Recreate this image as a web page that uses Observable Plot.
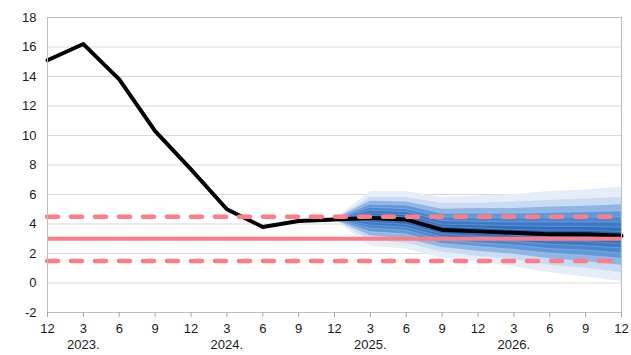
<!DOCTYPE html>
<html>
<head>
<meta charset="utf-8">
<script src="https://cdn.jsdelivr.net/npm/d3@7"></script>
<script src="https://cdn.jsdelivr.net/npm/@observablehq/plot@0.6"></script>
<style>
  html, body { margin: 0; padding: 0; background: #fff; }
  #chart { width: 631px; height: 355px; }
</style>
</head>
<body>
<div id="chart"></div>
<script>
// Quarterly periods
const periods = ["2022-12","2023-03","2023-06","2023-09","2023-12","2024-03","2024-06","2024-09","2024-12",
                 "2025-03","2025-06","2025-09","2025-12","2026-03","2026-06","2026-09","2026-12"];
const monthLabels = ["12","3","6","9","12","3","6","9","12","3","6","9","12","3","6","9","12"];
const yearLabels = {"2023-03": "2023.", "2024-03": "2024.", "2025-03": "2025.", "2026-03": "2026."};

// Inflation (actual + central projection)
const inflation = [15.1, 16.2, 13.8, 10.3, 7.7, 5.0, 3.8, 4.2, 4.3, 4.4, 4.3, 3.6, 3.5, 3.4, 3.3, 3.3, 3.2];

// Fan chart bands (outer to inner), periods 2024-12 .. 2026-12
const fanPeriods = ["2024-12","2025-03","2025-06","2025-09","2025-12","2026-03","2026-06","2026-09","2026-12"];
const band1Hi = [4.3, 6.2, 6.2, 5.8, 5.9, 6.0, 6.2, 6.3, 6.5];
const band1Lo = [4.3, 2.5, 2.3, 1.7, 1.4, 1.1, 0.7, 0.4, 0.1];
const band2Hi = [4.3, 5.8, 5.8, 5.4, 5.4, 5.5, 5.6, 5.7, 5.8];
const band2Lo = [4.3, 2.9, 2.7, 2.1, 1.8, 1.6, 1.2, 1.0, 0.7];
const band3Hi = [4.3, 5.55, 5.5, 5.0, 5.05, 5.05, 5.15, 5.2, 5.3];
const band3Lo = [4.3, 3.2, 3.0, 2.4, 2.15, 1.95, 1.65, 1.45, 1.2];
const band4Hi = [4.3, 5.3, 5.25, 4.7, 4.7, 4.7, 4.75, 4.8, 4.85];
const band4Lo = [4.3, 3.45, 3.3, 2.65, 2.45, 2.25, 2.0, 1.85, 1.65];
const band5Hi = [4.3, 5.1, 5.0, 4.45, 4.4, 4.4, 4.4, 4.45, 4.45];
const band5Lo = [4.3, 3.7, 3.55, 2.9, 2.7, 2.55, 2.3, 2.2, 2.0];
const band6Hi = [4.3, 4.9, 4.8, 4.2, 4.15, 4.1, 4.1, 4.1, 4.1];
const band6Lo = [4.3, 3.9, 3.75, 3.1, 2.95, 2.8, 2.6, 2.5, 2.35];
const band7Hi = [4.3, 4.7, 4.6, 3.95, 3.9, 3.85, 3.8, 3.8, 3.75];
const band7Lo = [4.3, 4.1, 3.95, 3.3, 3.15, 3.0, 2.85, 2.8, 2.65];
const band8Hi = [4.3, 4.55, 4.45, 3.8, 3.7, 3.6, 3.55, 3.55, 3.45];
const band8Lo = [4.3, 4.25, 4.15, 3.45, 3.35, 3.2, 3.1, 3.05, 2.95];
const bandColors = ["#e4edf8", "#c8dbf2", "#8fb5e3", "#6198d8", "#4a87cf", "#3b79c6", "#2f6dbd", "#2662b2"];

// Inflation target and tolerance band
const target = [3];
const tolerance = [4.5, 1.5];
const yTicks = [-2, 0, 2, 4, 6, 8, 10, 12, 14, 16, 18];

const bandHis = [band1Hi, band2Hi, band3Hi, band4Hi, band5Hi, band6Hi, band7Hi, band8Hi];
const bandLos = [band1Lo, band2Lo, band3Lo, band4Lo, band5Lo, band6Lo, band7Lo, band8Lo];

const lineRows = periods.map((p, i) => ({period: p, value: inflation[i]}));
const bandMarks = bandHis.map((hi, b) =>
  Plot.areaY(fanPeriods.map((p, i) => ({period: p, lo: bandLos[b][i], hi: hi[i]})),
    {x: "period", y1: "lo", y2: "hi", fill: bandColors[b], curve: "linear",
     stroke: b >= 3 ? "#ffffff" : "none", strokeOpacity: 0.25, strokeWidth: 0.8})
);

const chart = Plot.plot({
  width: 631,
  height: 355,
  marginLeft: 47,
  marginRight: 10,
  marginTop: 17,
  marginBottom: 43,
  style: {fontFamily: "'Liberation Sans', Arial, sans-serif", fontSize: "13px", color: "#1a1a1a", background: "#fff"},
  x: {type: "point", domain: periods, padding: 0, round: false, label: null},
  y: {domain: [-2, 18], label: null},
  marks: [
    Plot.gridY(yTicks, {stroke: "#d9d9d9", strokeOpacity: 1}),
    ...bandMarks,
    Plot.line(lineRows, {x: "period", y: "value", stroke: "#000", strokeWidth: 4, strokeLinejoin: "round"}),
    Plot.ruleY(target, {stroke: "#ff7c86", strokeWidth: 4}),
    Plot.ruleY(tolerance, {stroke: "#ff7c86", strokeWidth: 4.5, strokeDasharray: "11,13", strokeLinecap: "round"}),
    Plot.frame({stroke: "#bfbfbf"}),
    Plot.axisY(yTicks, {tickSize: 0, tickPadding: 11, label: null, fontSize: 13,
      tickFormat: (d) => (d < 0 ? "-" + Math.abs(d) : String(d))}),
    Plot.axisX({
      tickSize: 5, tickPadding: 3, label: null, stroke: "#a6a6a6", fontSize: 13, lineHeight: 1.3,
      tickFormat: (d) => {
        const i = periods.indexOf(d);
        return monthLabels[i] + (yearLabels[d] ? "\n" + yearLabels[d] : "");
      }
    })
  ]
});
document.getElementById("chart").appendChild(chart);
</script>
</body>
</html>
